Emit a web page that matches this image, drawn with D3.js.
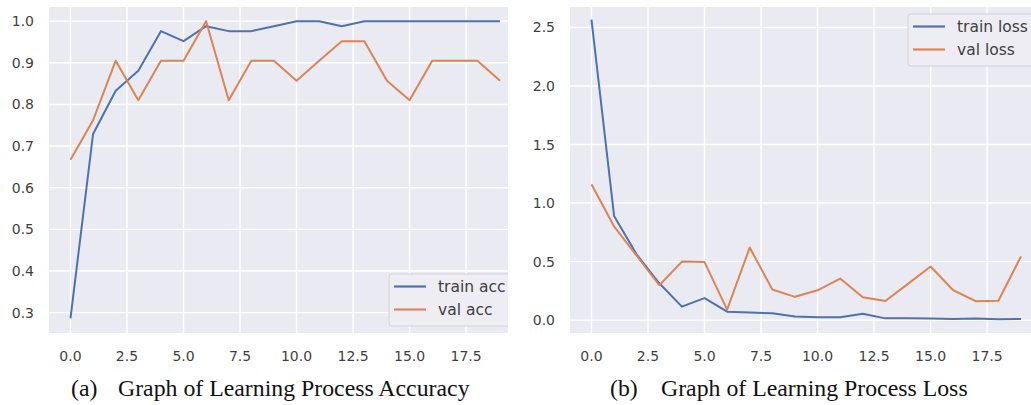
<!DOCTYPE html>
<html>
<head>
<meta charset="utf-8">
<script src="https://cdnjs.cloudflare.com/ajax/libs/d3/7.8.5/d3.min.js"></script>
<style>
  body { margin: 0; background: #ffffff; }
  svg { display: block; }
</style>
</head>
<body>
<svg id="chart" width="1031" height="405"></svg>
<script>
var epochs = d3.range(20);

var trainAcc = [0.286, 0.729, 0.833, 0.881, 0.976, 0.952, 0.988, 0.976, 0.976, 0.988,
                1.0, 1.0, 0.988, 1.0, 1.0, 1.0, 1.0, 1.0, 1.0, 1.0];
var valAcc   = [0.667, 0.762, 0.905, 0.810, 0.905, 0.905, 1.0, 0.810, 0.905, 0.905,
                0.857, 0.905, 0.952, 0.952, 0.857, 0.810, 0.905, 0.905, 0.905, 0.857];

var trainLoss = [2.568, 0.890, 0.560, 0.315, 0.115, 0.188, 0.072, 0.065, 0.058, 0.030,
                 0.025, 0.025, 0.055, 0.015, 0.015, 0.014, 0.010, 0.014, 0.008, 0.010];
var valLoss   = [1.160, 0.800, 0.550, 0.298, 0.500, 0.496, 0.090, 0.620, 0.262, 0.199,
                 0.255, 0.355, 0.195, 0.163, 0.310, 0.458, 0.255, 0.162, 0.165, 0.545];

var xTicks = [0, 2.5, 5, 7.5, 10, 12.5, 15, 17.5];
var accTicks = [0.3, 0.4, 0.5, 0.6, 0.7, 0.8, 0.9, 1.0];
var lossTicks = [0, 0.5, 1.0, 1.5, 2.0, 2.5];

var accNames = ["train acc", "val acc"];
var lossNames = ["train loss", "val loss"];
var captions = [["(a)", "Graph of Learning Process Accuracy"], ["(b)", "Graph of Learning Process Loss"]];

var colors = ["#4C72B0", "#DD8452"];
var svg = d3.select("#chart");

/**
 * draws one seaborn style panel
 */
function drawPanel(opt) {
    var x = d3.scaleLinear().domain([-0.95, 19.95]).range([opt.left, opt.left + 472.5]);
    var y = d3.scaleLinear().domain(opt.yDomain).range([333, 7]);

    svg.append("clipPath").attr("id", "clip" + opt.id)
        .append("rect")
        .attr("x", opt.clipX).attr("y", 0)
        .attr("width", opt.clipW).attr("height", 405);

    var g = svg.append("g").attr("clip-path", "url(#clip" + opt.id + ")");

    g.append("rect")
        .attr("x", x.range()[0]).attr("y", 7)
        .attr("width", x.range()[1] - x.range()[0]).attr("height", 326)
        .attr("fill", "#EAEAF2");

    // grid
    g.selectAll("line.vgrid").data(xTicks).enter().append("line")
        .attr("class", "vgrid")
        .attr("x1", function(d){ return x(d); }).attr("x2", function(d){ return x(d); })
        .attr("y1", 7).attr("y2", 333)
        .attr("stroke", "#ffffff").attr("stroke-width", 1.4);
    g.selectAll("line.hgrid").data(opt.yTicks).enter().append("line")
        .attr("class", "hgrid")
        .attr("x1", x.range()[0]).attr("x2", x.range()[1])
        .attr("y1", function(d){ return y(d); }).attr("y2", function(d){ return y(d); })
        .attr("stroke", "#ffffff").attr("stroke-width", 1.4);

    var line = d3.line()
        .x(function(d, i){ return x(epochs[i]); })
        .y(function(d){ return y(d); });

    opt.series.forEach(function(s, i) {
        g.append("path")
            .attr("d", line(s))
            .attr("fill", "none")
            .attr("stroke", colors[i])
            .attr("stroke-width", 2)
            .attr("stroke-linejoin", "round");
    });

    // tick labels
    svg.selectAll("text.xt" + opt.id).data(xTicks).enter().append("text")
        .attr("class", "xt" + opt.id)
        .attr("x", function(d){ return x(d); })
        .attr("y", 361)
        .attr("text-anchor", "middle")
        .attr("font-family", "DejaVu Sans")
        .attr("font-size", 14)
        .attr("fill", "#3f3f3f")
        .text(function(d){ return d3.format(".1f")(d); });

    svg.selectAll("text.yt" + opt.id).data(opt.yTicks).enter().append("text")
        .attr("class", "yt" + opt.id)
        .attr("x", x.range()[0] - 15)
        .attr("y", function(d){ return y(d) + 5; })
        .attr("text-anchor", "end")
        .attr("font-family", "DejaVu Sans")
        .attr("font-size", 14)
        .attr("fill", "#3f3f3f")
        .text(function(d){ return d3.format(".1f")(d); });

    // legend
    var lg = g.append("g").attr("transform", "translate(" + opt.legX + "," + opt.legY + ")");
    lg.append("rect")
        .attr("x", 0).attr("y", 0)
        .attr("width", opt.legW).attr("height", 52)
        .attr("rx", 3)
        .attr("fill", "#EDEDF3")
        .attr("stroke", "#d2d2d6");
    opt.names.forEach(function(n, i) {
        lg.append("line")
            .attr("x1", 5).attr("x2", 37)
            .attr("y1", 12.5 + i * 23).attr("y2", 12.5 + i * 23)
            .attr("stroke", colors[i]).attr("stroke-width", 2.2);
        lg.append("text")
            .attr("x", 49).attr("y", 18 + i * 23)
            .attr("font-family", "DejaVu Sans")
            .attr("font-size", 15.5)
            .attr("fill", "#3f3f3f")
            .text(n);
    });

    // caption
    var cap = svg.append("text")
        .attr("y", 396)
        .attr("font-family", "Liberation Serif")
        .attr("font-size", 23.8)
        .attr("fill", "#111");
    cap.append("tspan").attr("x", opt.capX).text(opt.caption[0]);
    cap.append("tspan").attr("x", opt.capX + opt.capGap).text(opt.caption[1]);
}

drawPanel({
    id: "a", left: 49, clipX: 0, clipW: 508,
    yDomain: [0.251, 1.034], yTicks: accTicks,
    series: [trainAcc, valAcc], names: accNames,
    legX: 389, legY: 274, legW: 128,
    caption: captions[0], capX: 71, capGap: 47
});

drawPanel({
    id: "b", left: 570, clipX: 508, clipW: 523,
    yDomain: [-0.11, 2.675], yTicks: lossTicks,
    series: [trainLoss, valLoss], names: lossNames,
    legX: 908, legY: 14, legW: 130,
    caption: captions[1], capX: 610, capGap: 51
});
</script>
</body>
</html>
